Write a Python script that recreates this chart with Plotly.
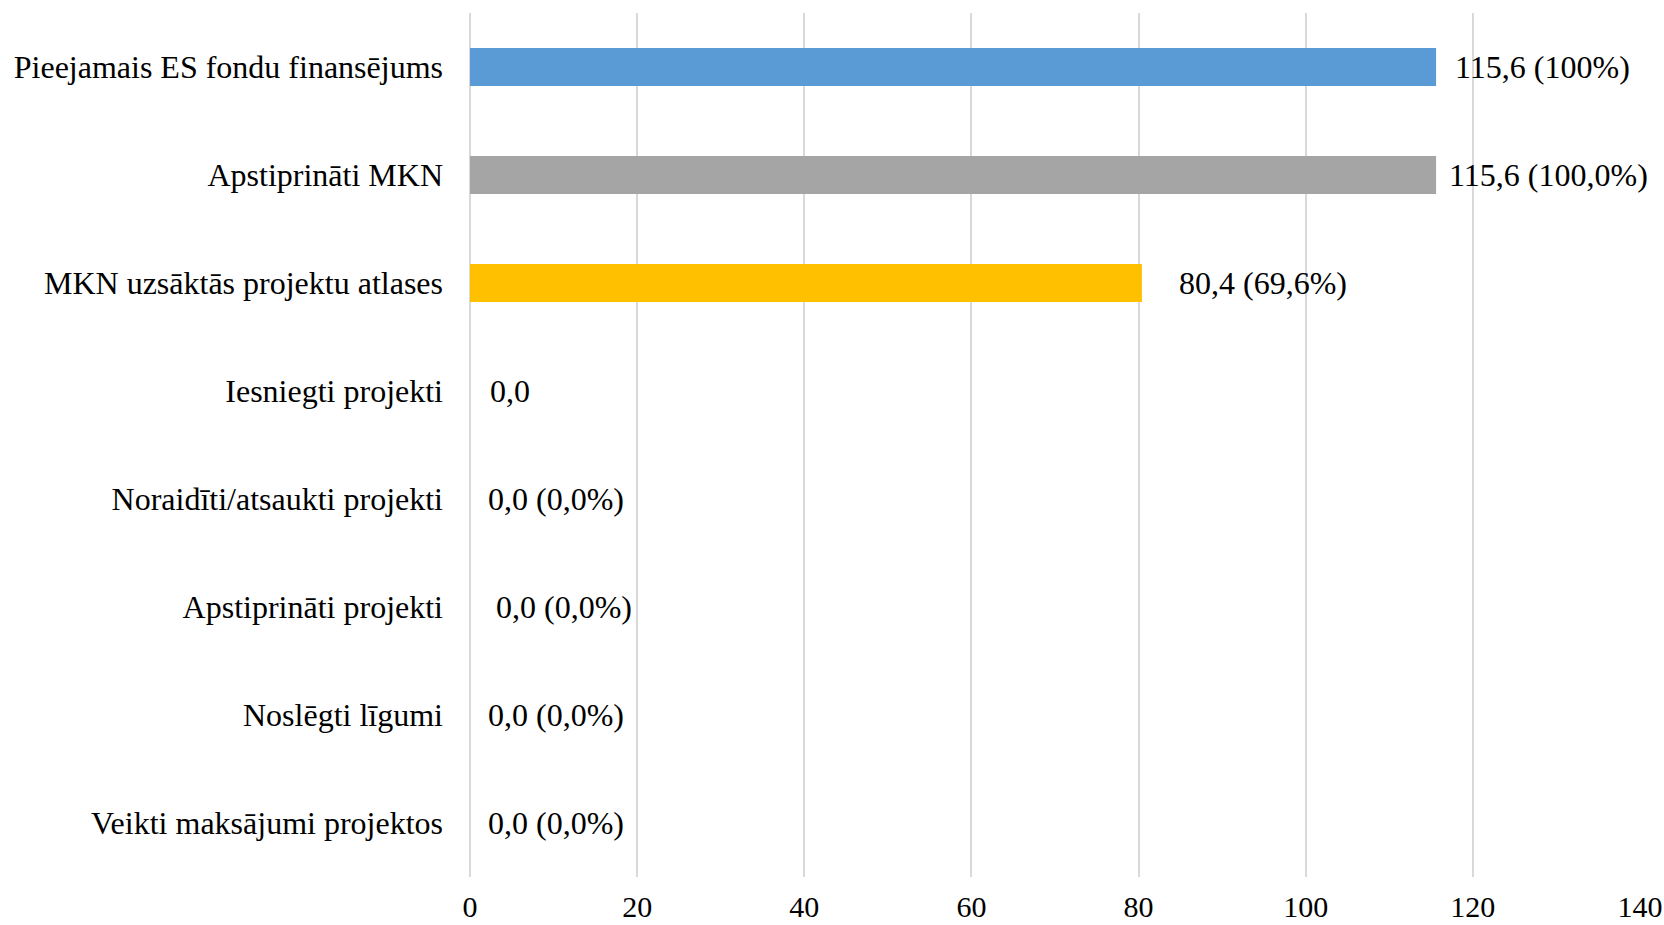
import plotly.graph_objects as go

categories = [
    "Pieejamais ES fondu finansējums",
    "Apstiprināti MKN",
    "MKN uzsāktās projektu atlases",
    "Iesniegti projekti",
    "Noraidīti/atsaukti projekti",
    "Apstiprināti projekti",
    "Noslēgti līgumi",
    "Veikti maksājumi projektos",
]
values = [115.6, 115.6, 80.4, 0.0, 0.0, 0.0, 0.0, 0.0]
labels = [
    "115,6 (100%)",
    "115,6 (100,0%)",
    "80,4 (69,6%)",
    "0,0",
    "0,0 (0,0%)",
    "0,0 (0,0%)",
    "0,0 (0,0%)",
    "0,0 (0,0%)",
]
colors = ["#5B9BD5", "#A5A5A5", "#FFC000"] + ["#FFC000"] * 5
label_shift = [17, 11, 35, 18, 16, 24, 16, 16]
tick_vals = [0, 20, 40, 60, 80, 100, 120, 140]

FONT = "Liberation Serif"
SIZE = 32

fig = go.Figure()
fig.add_trace(go.Bar(
    y=categories, x=values, orientation="h",
    marker=dict(color=colors, line=dict(width=0)),
    width=0.35, hoverinfo="skip",
))
for c, v, t, s in zip(categories, values, labels, label_shift):
    fig.add_annotation(x=v, y=c, text=t, showarrow=False, xanchor="left",
                       yanchor="middle", xshift=s,
                       font=dict(family=FONT, size=SIZE, color="#000000"))

fig.update_layout(
    width=1664, height=925,
    margin=dict(l=470, r=24, t=13, b=48),
    paper_bgcolor="white", plot_bgcolor="white",
    showlegend=False,
    font=dict(family=FONT, size=SIZE, color="#000000"),
)
fig.update_xaxes(range=[0, 140], tickvals=tick_vals, showgrid=True,
                 gridcolor="#D9D9D9", gridwidth=1.5, zeroline=True,
                 zerolinecolor="#D9D9D9", zerolinewidth=1.5, showline=False,
                 ticks="", tickfont=dict(size=30), ticklabelstandoff=9,
                 automargin=False)
fig.update_yaxes(autorange="reversed", showgrid=False, ticks="",
                 ticklabelstandoff=26, tickfont=dict(size=SIZE),
                 automargin=False)

fig.write_html(
    "out.html",
    config={"displayModeBar": False},
    post_script="document.body.style.margin='0';document.body.style.overflow='hidden';",
)
